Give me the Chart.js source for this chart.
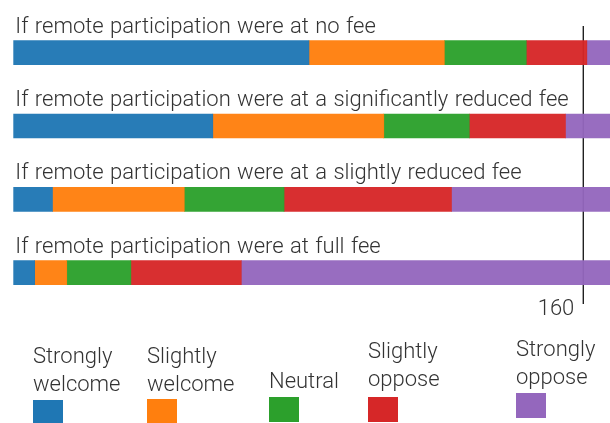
<!DOCTYPE html>
<html>
<head>
<meta charset="utf-8">
<script src="https://cdn.jsdelivr.net/npm/chart.js@4"></script>
<style>
  html, body { margin: 0; padding: 0; background: #fff; overflow: hidden; }
  #chart { display: block; }
</style>
</head>
<body>
<canvas id="chart" width="610" height="423"></canvas>
<script>
// DATA
const categories = [
  "If remote participation were at no fee",
  "If remote participation were at a significantly reduced fee",
  "If remote participation were at a slightly reduced fee",
  "If remote participation were at full fee",
];
const responses = ["Strongly welcome", "Slightly welcome", "Neutral", "Slightly oppose", "Strongly oppose"];
const stronglyWelcome = [83, 56, 11, 6];
const slightlyWelcome = [38, 48, 37, 9];
const neutral = [23, 24, 28, 18];
const slightlyOppose = [17, 27, 47, 31];
const stronglyOppose = [11, 17, 49, 108];
const xTicks = [160];

const colors = ["#1f77b4", "#ff7f0e", "#2ca02c", "#d62728", "#9467bd"];
const FONT = "300 22px Roboto";
const TEXT = "#333";

// legend layout (hand placed like the original)
const legendX = [33, 147, 269, 368, 516];
const legendBase = [391, 391, 388, 386, 384]; // baseline of last text line
const legendBox = [400, 399, 397, 397, 393]; // top of colour square

const series = [stronglyWelcome, slightlyWelcome, neutral, slightlyOppose, stronglyOppose];

// GRAPH
const markLine = {
  id: "markLine",
  beforeDatasetsDraw(chart) {
    const c = chart.ctx;
    const x = chart.scales.x.getPixelForValue(xTicks[0]);
    c.save();
    c.strokeStyle = "#111";
    c.lineWidth = 1.3;
    c.beginPath();
    c.moveTo(x, 26);
    c.lineTo(x, 304);
    c.stroke();
    c.font = FONT;
    c.fillStyle = TEXT;
    c.textAlign = "right";
    c.textBaseline = "alphabetic";
    c.fillText(String(xTicks[0]), x - 9, 315);
    c.restore();
  },
};

const barLabels = {
  id: "barLabels",
  afterDatasetsDraw(chart) {
    const c = chart.ctx;
    const y = chart.scales.y;
    c.save();
    c.font = FONT;
    c.wordSpacing = "1px";
    c.fillStyle = TEXT;
    c.textAlign = "left";
    c.textBaseline = "alphabetic";
    categories.forEach((cat, i) => {
      c.fillText(cat, chart.chartArea.left + 2, y.getPixelForValue(i) - 20);
    });
    c.restore();
  },
};

const customLegend = {
  id: "customLegend",
  afterDraw(chart) {
    const c = chart.ctx;
    c.save();
    c.font = FONT;
    c.textAlign = "left";
    c.textBaseline = "alphabetic";
    chart.data.datasets.forEach((ds, i) => {
      const words = ds.label.split(" ");
      c.fillStyle = TEXT;
      words.forEach((w, j) => {
        c.fillText(w, legendX[i], legendBase[i] - (words.length - 1 - j) * 28);
      });
      c.fillStyle = colors[i];
      c.fillRect(legendX[i], legendBox[i], 30, 25);
    });
    c.restore();
  },
};

new Chart(document.getElementById("chart"), {
  type: "bar",
  data: {
    labels: categories,
    datasets: responses.map((r, i) => ({
      label: r,
      data: series[i],
      backgroundColor: colors[i] + "f5",
      borderWidth: 0,
      barThickness: 24,
    })),
  },
  options: {
    indexAxis: "y",
    responsive: false,
    animation: false,
    devicePixelRatio: 1,
    layout: { padding: { left: 13.3, right: 0, top: 16, bottom: 113.7 } },
    scales: {
      x: { stacked: true, min: 0, max: 167.5, display: false },
      y: { stacked: true, display: false },
    },
    plugins: {
      legend: { display: false },
      tooltip: { enabled: false },
    },
  },
  plugins: [markLine, barLabels, customLegend],
});
</script>
</body>
</html>
